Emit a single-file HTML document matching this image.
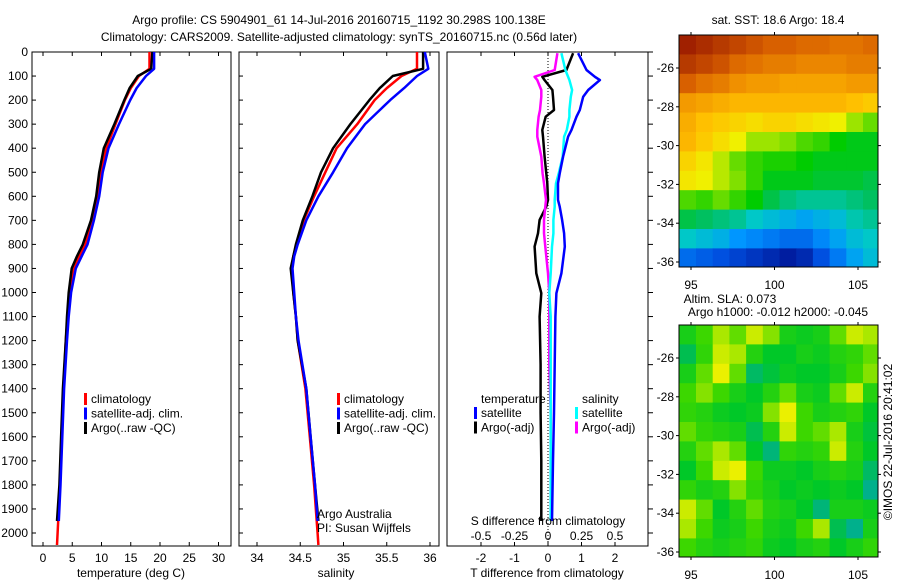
<!DOCTYPE html>
<html><head><meta charset="utf-8"><style>
body{margin:0;background:#fff;}
svg{display:block;font-family:"Liberation Sans",sans-serif;}
text{font-size:12px;fill:#000;}
</style></head><body>
<svg id="fig" width="900" height="580" viewBox="0 0 900 580">
<text x="339" y="24" text-anchor="middle">Argo profile: CS 5904901_61 14-Jul-2016 20160715_1192 30.298S 100.138E</text>
<text x="339" y="41" text-anchor="middle">Climatology: CARS2009. Satellite-adjusted climatology: synTS_20160715.nc (0.56d later)</text>
<g id="g1"></g>
<g id="g2"></g>
<g id="g3"></g>
<g id="m1"></g>
<g id="m2"></g>
<text x="778" y="24" text-anchor="middle">sat. SST: 18.6 Argo: 18.4</text>
<text x="730" y="303" text-anchor="middle">Altim. SLA: 0.073</text>
<text x="778" y="316" text-anchor="middle">Argo h1000: -0.012 h2000: -0.045</text>
<text transform="translate(892,442) rotate(-90)" text-anchor="middle">©IMOS 22-Jul-2016 20:41:02</text>
<text x="317" y="518">Argo Australia</text>
<text x="317" y="532">PI: Susan Wijffels</text>
</svg>
<script>
// ---- data ----
const depthArgo=[0,70,100,150,200,300,400,500,600,700,800,850,900,1000,1100,1200,1400,1600,1800,1950];
const tempArgo=[18.7,18.5,16.2,14.8,13.9,12.2,10.4,9.6,9.1,8.2,6.8,5.8,4.9,4.4,4.1,3.9,3.4,3.1,2.8,2.4];
const tempClim=[18.2,18.2,16.4,15.0,14.0,12.4,10.8,9.9,9.3,8.4,7.2,6.2,5.2,4.5,4.2,3.9,3.5,3.2,2.9,2.6];
const tempSat=[19.0,19.0,17.6,16.0,14.9,13.0,11.2,10.2,9.6,8.7,7.6,6.6,5.6,4.8,4.4,4.1,3.6,3.3,3.0,2.7];
const depthClimEnd=[1950,2000,2050];const tempClimEnd=[2.6,2.5,2.4];
const salArgo=[35.92,35.92,35.57,35.42,35.30,35.08,34.88,34.74,34.64,34.53,34.45,34.42,34.39,34.42,34.45,34.47,34.57,34.62,34.67,34.71];
const salClim=[35.85,35.85,35.67,35.50,35.36,35.16,34.92,34.79,34.66,34.54,34.46,34.42,34.40,34.42,34.45,34.47,34.56,34.61,34.66,34.69];
const salSat=[35.94,35.98,35.85,35.70,35.54,35.25,35.04,34.88,34.71,34.57,34.47,34.43,34.41,34.43,34.45,34.48,34.57,34.62,34.67,34.70];
const salClimEnd=[34.69,34.70,34.71];
const depthDiff=[5,75,103,117,158,186,241,269,324,352,435,505,546,615,643,698,754,809,920,1003,1100,1300,1500,1700,1950];
const tDiffArgo=[0.75,0.55,-0.17,-0.1,0.13,0.15,0.18,-0.07,-0.17,-0.15,-0.1,-0.05,-0.02,0,-0.05,-0.25,-0.3,-0.4,-0.35,-0.2,-0.25,-0.22,-0.22,-0.2,-0.2];
const tDiffSat=[0.9,1.15,1.4,1.55,1.2,1.05,0.95,0.85,0.7,0.6,0.45,0.35,0.3,0.3,0.35,0.42,0.48,0.5,0.4,0.25,0.22,0.2,0.18,0.15,0.12];
const sDiffSat=[0.1,0.13,0.15,0.16,0.18,0.17,0.16,0.16,0.14,0.12,0.11,0.08,0.06,0.05,0.05,0.04,0.04,0.03,0.02,0.01,0.02,0.02,0.02,0.02,0.02];
const sDiffArgo=[0.07,0.05,-0.1,-0.08,-0.05,-0.05,-0.06,-0.07,-0.08,-0.08,-0.05,-0.04,-0.03,-0.015,-0.02,-0.03,-0.03,-0.02,0,0.01,0.01,0.01,0.02,0.02,0.02];
const depthTicks=[0,100,200,300,400,500,600,700,800,900,1000,1100,1200,1300,1400,1500,1600,1700,1800,1900,2000];
const tempTicks=[0,5,10,15,20,25,30];
const salTicks=[34,34.5,35,35.5,36];
const tdTicks=[-2,-1,0,1,2];
const sdTicks=[-0.5,-0.25,0,0.25,0.5];
const sdTickLabels=['-0.5','-0.25','0','0.25','0.5'];
const lonTicks=[95,100,105];
const latTicks=[-26,-28,-30,-32,-34,-36];
const mapLons=[94.8,95.8,96.8,97.8,98.8,99.8,100.8,101.8,102.8,103.8,104.8,105.8];
const mapLats=[-24.8,-25.8,-26.8,-27.8,-28.8,-29.8,-30.8,-31.8,-32.8,-33.8,-34.8,-35.8];
const sst=[
[20.3,20.2,20.1,20.0,19.9,19.8,19.8,19.7,19.7,19.6,19.6,19.7],
[20.1,20.0,19.9,19.7,19.6,19.5,19.5,19.4,19.4,19.4,19.5,19.5],
[19.8,19.6,19.5,19.3,19.2,19.2,19.1,19.1,19.1,19.1,19.2,19.2],
[19.2,19.1,19.0,18.9,18.9,18.9,18.9,18.9,18.9,18.9,18.8,18.7],
[19.0,18.8,18.7,18.6,18.5,18.6,18.6,18.5,18.4,18.3,18.0,17.8],
[18.9,18.7,18.5,18.3,18.0,18.0,17.9,17.7,17.6,17.4,17.3,17.3],
[18.6,18.4,18.1,17.8,17.6,17.5,17.5,17.4,17.3,17.3,17.3,17.3],
[18.4,18.3,18.1,17.9,17.6,17.3,17.3,17.3,17.2,17.2,17.2,17.1],
[17.7,17.6,17.8,17.6,17.4,17.1,16.9,16.8,16.8,16.8,16.9,17.0],
[17.1,17.0,16.9,16.8,16.6,16.5,16.4,16.3,16.4,16.5,16.7,16.8],
[16.6,16.5,16.4,16.2,16.1,16.0,15.9,15.9,16.1,16.3,16.5,16.6],
[15.9,15.8,15.7,15.6,15.5,15.4,15.3,15.4,15.7,16.0,16.3,16.5]];
const sla=[
[0.2,0.5,0.8,0.6,0.9,0.7,0.2,0.1,0.2,0.6,0.9,0.8],
[-0.2,0.4,0.9,0.8,0.3,0.0,0.0,0.2,0.1,0.3,0.4,0.6],
[0.2,0.6,1.0,0.6,-0.3,-0.1,0.1,0.0,0.0,0.2,0.5,0.7],
[0.5,0.7,0.5,0.2,0.0,0.3,0.6,0.2,0.1,0.6,0.9,0.3],
[0.4,0.3,0.1,0.0,0.1,0.7,1.0,0.5,0.2,0.3,0.4,0.0],
[0.6,0.4,0.3,0.2,-0.2,0.3,0.9,0.5,0.6,0.8,0.2,-0.1],
[0.3,0.6,0.8,0.6,0.0,-0.4,0.4,0.3,0.4,0.9,0.3,0.0],
[0.0,0.5,0.9,1.0,0.5,0.1,0.1,0.0,0.2,0.3,0.2,-0.3],
[0.4,0.2,0.3,0.7,0.4,0.2,0.0,0.1,0.0,0.1,0.0,-0.5],
[0.9,0.6,0.0,0.3,0.6,0.3,0.2,0.0,-0.4,0.2,0.2,0.1],
[0.8,0.5,0.1,0.2,0.5,0.2,0.1,0.5,0.8,-0.2,-0.5,0.2],
[0.5,0.3,0.2,0.3,0.4,0.1,0.0,0.2,0.3,0.0,0.2,0.4]];
// ---- helpers ----
const NS='http://www.w3.org/2000/svg';
function mk(parent,tag,attrs){const e=document.createElementNS(NS,tag);for(const k in attrs)e.setAttribute(k,attrs[k]);parent.appendChild(e);return e;}
function txt(parent,x,y,s,anchor){const t=mk(parent,'text',{x:x,y:y,'text-anchor':anchor||'start'});t.textContent=s;return t;}
const Y0=52,Y1=546;
const yD=d=>Y0+d*0.2405;
const xT=v=>43+v*5.85;
const xS=v=>257+(v-34)*86.5;
const xTD=v=>548+v*33.5;
const xSD=v=>548+v*134;
function line(g,xs,ys,fx,color,w,name){
  const p=xs.map((v,i)=>fx(v).toFixed(1)+','+yD(ys[i]).toFixed(1)).join(' ');
  const e=mk(g,'polyline',{points:p,fill:'none',stroke:color,'stroke-width':w,'stroke-linejoin':'round'});
  
  
}
function frame(g,x0,x1,name){
  const r=mk(g,'rect',{x:x0,y:Y0,width:x1-x0,height:Y1-Y0,fill:'none',stroke:'#000','stroke-width':1});
  
  
}
function legend(g,x,y,items){
  items.forEach((it,i)=>{
    mk(g,'rect',{x:x,y:y+i*14.5-10,width:3,height:12,fill:it[0]});
    const t=txt(g,x+7,y+i*14.5,it[1]);
    
    
  });
}
// ---- panel 1 ----
const g1=document.getElementById('g1');
frame(g1,32,231,'temperature-plot-frame');
depthTicks.forEach(d=>{mk(g1,'line',{x1:32,x2:36,y1:yD(d),y2:yD(d),stroke:'#000'});const t=txt(g1,28,yD(d)+4,String(d),'end');
  
  });
tempTicks.forEach(v=>{mk(g1,'line',{x1:xT(v),x2:xT(v),y1:Y0,y2:Y0+4,stroke:'#000'});mk(g1,'line',{x1:xT(v),x2:xT(v),y1:Y1,y2:Y1-4,stroke:'#000'});
  const t=txt(g1,xT(v),562,String(v),'middle');
  
  });
let t1=txt(g1,131,577,'temperature (deg C)','middle');


line(g1,tempClim,depthArgo,xT,'#f00',2.5,'temperature-climatology-line');
line(g1,tempClimEnd,depthClimEnd,xT,'#f00',2.5,'temperature-climatology-tail');
line(g1,tempArgo,depthArgo,xT,'#000',2.5,'temperature-argo-line');
line(g1,tempSat,depthArgo,xT,'#00f',2.5,'temperature-satellite-line');
legend(g1,84,403,[['#f00','climatology'],['#00f','satellite-adj. clim.'],['#000','Argo(..raw -QC)']]);
// ---- panel 2 ----
const g2=document.getElementById('g2');
frame(g2,239,439,'salinity-plot-frame');
salTicks.forEach(v=>{mk(g2,'line',{x1:xS(v),x2:xS(v),y1:Y0,y2:Y0+4,stroke:'#000'});mk(g2,'line',{x1:xS(v),x2:xS(v),y1:Y1,y2:Y1-4,stroke:'#000'});
  const t=txt(g2,xS(v),562,String(v),'middle');
  
  });
depthTicks.forEach(d=>{mk(g2,'line',{x1:239,x2:243,y1:yD(d),y2:yD(d),stroke:'#000'});});
let t2=txt(g2,336,577,'salinity','middle');


line(g2,salClim,depthArgo,xS,'#f00',2.5,'salinity-climatology-line');
line(g2,salClimEnd,depthClimEnd,xS,'#f00',2.5,'salinity-climatology-tail');
line(g2,salArgo,depthArgo,xS,'#000',2.5,'salinity-argo-line');
line(g2,salSat,depthArgo,xS,'#00f',2.5,'salinity-satellite-line');
legend(g2,337,403,[['#f00','climatology'],['#00f','satellite-adj. clim.'],['#000','Argo(..raw -QC)']]);
// ---- panel 3 ----
const g3=document.getElementById('g3');
frame(g3,447,648,'difference-plot-frame');
tdTicks.forEach(v=>{mk(g3,'line',{x1:xTD(v),x2:xTD(v),y1:Y0,y2:Y0+4,stroke:'#000'});mk(g3,'line',{x1:xTD(v),x2:xTD(v),y1:Y1,y2:Y1-4,stroke:'#000'});
  const t=txt(g3,xTD(v),562,String(v),'middle');
  
  });
sdTicks.forEach((v,i)=>{const t=txt(g3,xSD(v),540,sdTickLabels[i],'middle');
  
  });
depthTicks.forEach(d=>{mk(g3,'line',{x1:648,x2:653,y1:yD(d),y2:yD(d),stroke:'#000'});});
mk(g3,'line',{x1:xTD(0),x2:xTD(0),y1:Y0,y2:Y1,stroke:'#000','stroke-dasharray':'1,2'});
let t3=txt(g3,547,577,'T difference from climatology','middle');


line(g3,tDiffArgo,depthDiff,xTD,'#000',2.5,'t-diff-argo-line');
line(g3,sDiffArgo,depthDiff,xSD,'#f0f',2.5,'s-diff-argo-line');
line(g3,sDiffSat,depthDiff,xSD,'#0ff',2.5,'s-diff-satellite-line');
line(g3,tDiffSat,depthDiff,xTD,'#00f',2.5,'t-diff-satellite-line');
let t4=txt(g3,548,525,'S difference from climatology','middle');


txt(g3,481,403,'temperature');
txt(g3,582,403,'salinity');
legend(g3,474,417,[['#00f','satellite'],['#000','Argo(-adj)']]);
legend(g3,575,417,[['#0ff','satellite'],['#f0f','Argo(-adj)']]);
// ---- maps ----
function lerpColor(stops,v){
  if(v<=stops[0][0])return stops[0][1];
  for(let i=1;i<stops.length;i++){if(v<=stops[i][0]){const a=stops[i-1],b=stops[i],f=(v-a[0])/(b[0]-a[0]);
    const c=a[1].map((x,k)=>Math.round(x+(b[1][k]-x)*f));return c;}}
  return stops[stops.length-1][1];
}
const sstStops=[[15.2,[0,16,144]],[15.7,[0,80,224]],[16.2,[0,150,255]],[16.6,[0,200,200]],[17.0,[0,192,96]],[17.4,[0,204,0]],[17.9,[128,224,0]],[18.3,[240,240,0]],[18.8,[255,192,0]],[19.3,[240,144,0]],[19.8,[216,96,0]],[20.3,[160,32,0]]];
const slaStops=[[-0.5,[0,176,140]],[0,[0,200,40]],[0.5,[60,215,0]],[0.8,[170,232,0]],[1.0,[235,240,0]]];
function drawMap(id,top,grid,stops,name){
  const g=document.getElementById(id);
  const xL=v=>691+(v-95)*16.7, yL=v=>top+33+(-26-v)*19.4;
  grid.forEach((row,r)=>row.forEach((v,c)=>{
    const x=xL(mapLons[c]-0.5),y=yL(mapLats[r]+0.5);
    const col=lerpColor(stops,v);
    const e=mk(g,'rect',{x:x.toFixed(1),y:y.toFixed(1),width:17.2,height:19.9,fill:'rgb('+col.join(',')+')'});
    
    
  }));
  mk(g,'rect',{x:679+199.5,y:top-2,width:20,height:236,fill:'#fff'});
  mk(g,'rect',{x:679,y:top+232.5,width:202,height:6,fill:'#fff'});
  mk(g,'rect',{x:679,y:top,width:199,height:232,fill:'none',stroke:'#000'});
  lonTicks.forEach(v=>{mk(g,'line',{x1:xL(v),x2:xL(v),y1:top,y2:top-3,stroke:'#000'});mk(g,'line',{x1:xL(v),x2:xL(v),y1:top+232,y2:top+235,stroke:'#000'});
    const t=txt(g,xL(v),top+254,String(v),'middle');
    
    });
  latTicks.forEach(v=>{mk(g,'line',{x1:679,x2:676,y1:yL(v),y2:yL(v),stroke:'#000'});mk(g,'line',{x1:878,x2:881,y1:yL(v),y2:yL(v),stroke:'#000'});
    const t=txt(g,674,yL(v)+4,String(v),'end');
    
    });
}
drawMap('m1',35,sst,sstStops,'sst');
drawMap('m2',325,sla,slaStops,'sla');
</script>
</body></html>
